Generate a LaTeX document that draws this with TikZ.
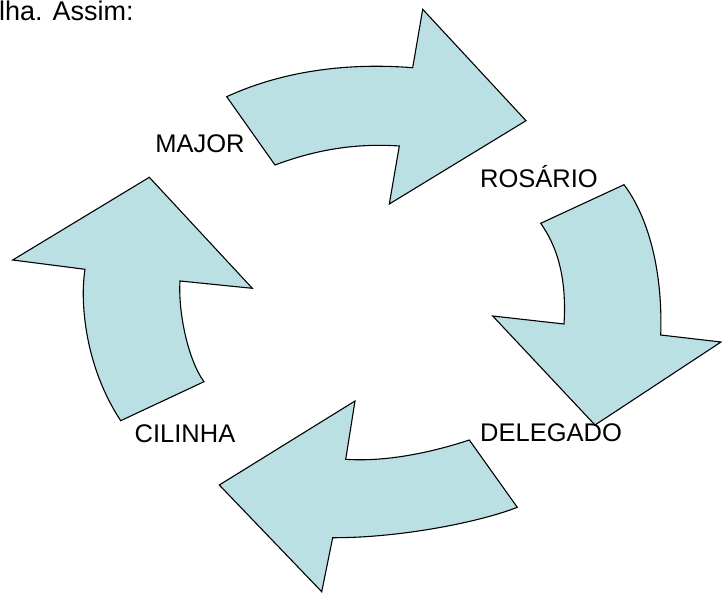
\documentclass[tikz,border=0pt]{standalone}
\usepackage{fontspec}
\setmainfont{Liberation Sans}
\definecolor{arrowfill}{RGB}{187,224,227}
\begin{document}
\begin{tikzpicture}[x=1pt,y=-1pt,
  cyclearrow/.style={fill=arrowfill,draw=black,line width=1.1pt,line join=miter},
  lbl/.style={inner sep=0pt,font=\fontsize{25.5}{30}\selectfont}]
\useasboundingbox (0,0) rectangle (722,593);
% top arrow (MAJOR -> ROSARIO)
\draw[cyclearrow] (226.7,96.7) .. controls (287,69) and (353,63) .. (412.7,67.7)
  -- (422.7,9.3) -- (526,120.7) -- (389.3,204) -- (399.3,146)
  .. controls (355,143) and (315,150) .. (275,165) -- cycle;
% right arrow (ROSARIO -> DELEGADO)
\draw[cyclearrow] (624,184.7) .. controls (647,215) and (663,268) .. (660.7,335)
  -- (721,342) -- (595,425) -- (492.7,316) -- (564,324)
  .. controls (567,275) and (556,245) .. (540.7,223.3) -- cycle;
% bottom arrow (DELEGADO -> CILINHA)
\draw[cyclearrow] (469.3,440) -- (517.3,507.3) .. controls (480,522) and (400,538) .. (332.7,537.7)
  -- (321.7,591.7) -- (219.3,485) -- (355,401) -- (345.7,459.3)
  .. controls (385,462) and (430,453) .. (469.3,440) -- cycle;
% left arrow (CILINHA -> MAJOR)
\draw[cyclearrow] (120.7,420.7) -- (204,381.7) .. controls (188,360) and (178,312) .. (180,281)
  -- (252.3,288.3) -- (149.3,177.3) -- (12.7,260) -- (85,269.3)
  .. controls (80,300) and (84,365) .. (120.7,420.7) -- cycle;
% labels
\node[inner sep=0pt,font=\fontsize{27}{32}\selectfont,anchor=base west] (intro) at (-1,21) {lha. Assim:};
\node[lbl] (major) at (200,144) {MAJOR};
\node[lbl] (rosario) at (539,177) {ROSÁRIO};
\node[lbl] (cilinha) at (185,434) {CILINHA};
\node[lbl] (delegado) at (551,433) {DELEGADO};
\end{tikzpicture}
\end{document}
